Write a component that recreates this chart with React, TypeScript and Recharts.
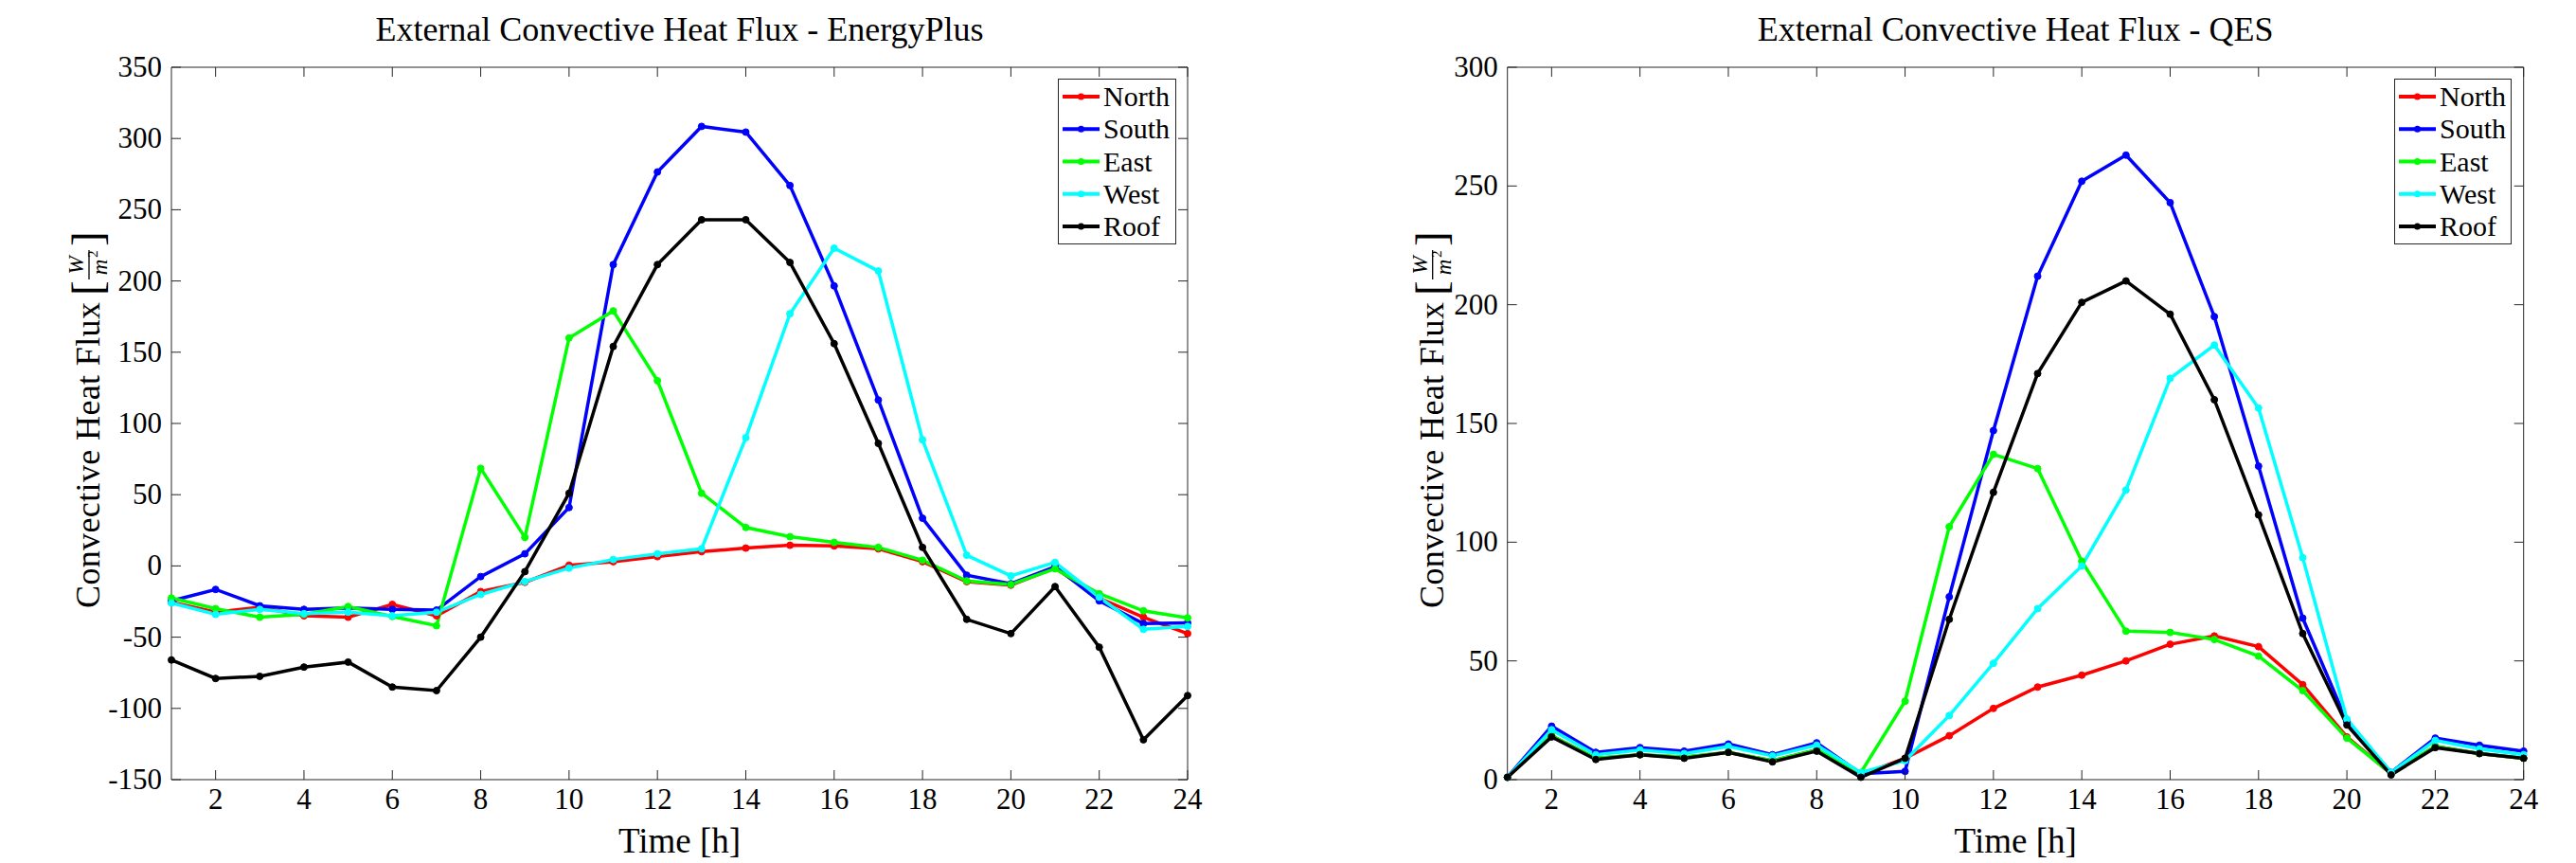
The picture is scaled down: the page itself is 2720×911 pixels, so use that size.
import React from "react";
import { Legend, Line, LineChart, ReferenceLine, XAxis, YAxis } from "recharts";

const HOURS = [1, 2, 3, 4, 5, 6, 7, 8, 9, 10, 11, 12, 13, 14, 15, 16, 17, 18, 19, 20, 21, 22, 23, 24];
const X_TICKS = [2, 4, 6, 8, 10, 12, 14, 16, 18, 20, 22, 24];
const SERIES = ["North", "South", "East", "West", "Roof"];
const COLORS = ["#ff0000", "#0000ff", "#00ff00", "#00ffff", "#000000"];

// EnergyPlus [W/m2]
const epNorth = [-25.5, -32.5, -29, -35, -36, -27, -35, -18, -11.5, 0.5, 3, 6.5, 10, 12.5, 14.5, 14, 12, 3, -11, -13.5, -1.5, -22.5, -36, -47.5];
const epSouth = [-24.5, -16.5, -28, -30.5, -29.5, -30.5, -31, -7.5, 8.5, 41, 211.5, 276.5, 308.5, 304.5, 267, 196.5, 116.5, 33.5, -6.5, -12.5, -0.5, -24.5, -40.5, -40];
const epEast = [-22.5, -30, -36, -34, -28.5, -35.5, -42, 68.5, 20, 160, 179, 130, 51, 27, 20.5, 16.5, 13, 4, -10.5, -13, -2, -19.5, -31.5, -36.5];
const epWest = [-26, -34, -30.5, -33.5, -32.5, -35, -32.5, -20, -11, -1.5, 4.5, 8.5, 12, 90, 177, 223, 207, 88.5, 7.5, -7, 2.5, -22, -44.5, -42.5];
const epRoof = [-66, -79, -77.5, -71, -67.5, -85, -87.5, -50, -4, 51, 154, 211.5, 243, 243, 213, 156, 86, 13, -37.5, -47.5, -14.5, -57, -122, -91];
const EP_TICKS = [-150, -100, -50, 0, 50, 100, 150, 200, 250, 300, 350];

// QES [W/m2]
const qesNorth = [1, 18.5, 9, 10.5, 9.5, 11.5, 8, 12.5, 2, 9, 18.5, 30, 39, 44, 50, 57, 60.5, 56, 40, 18, 2.5, 14, 11, 9];
const qesSouth = [1, 22.5, 11.5, 13.5, 12, 15, 10.5, 15.5, 2.5, 3.5, 77, 147, 212, 252, 263, 243, 195, 132, 68, 24.5, 3, 17.5, 14.5, 12];
const qesEast = [1, 18.5, 9, 10.5, 9.5, 11.5, 8, 12.5, 3, 33, 106.5, 137, 131, 92, 62.5, 62, 59, 52, 37.5, 17.5, 2.5, 14, 11, 9];
const qesWest = [1, 21, 10.5, 12.5, 11, 14, 10, 14.5, 3, 8, 27, 49, 72, 90, 122, 169, 183, 156.5, 93.5, 25.5, 3, 16.5, 13, 10.5];
const qesRoof = [1, 18, 8.5, 10.5, 9, 11.5, 7.5, 12, 1, 9, 67.5, 121, 171, 201, 210, 196, 160, 111.5, 61.5, 23, 2, 13.5, 11, 9];
const QES_TICKS = [0, 50, 100, 150, 200, 250, 300];

const FONT = '"Liberation Serif", "Times New Roman", serif';
const AXIS = "#262626";
const W = 1360;
const H = 911;
const PLOT_TOP = 71;
const PLOT_H = 752;
const PLOT_W = 1073;
const TICK_LEN = 10;

function toRows(cols: number[][]) {
  return HOURS.map((hour, i) => {
    const row: Record<string, number> = { hour };
    SERIES.forEach((name, k) => (row[name] = cols[k][i]));
    return row;
  });
}

const epRows = toRows([epNorth, epSouth, epEast, epWest, epRoof]);
const qesRows = toRows([qesNorth, qesSouth, qesEast, qesWest, qesRoof]);

function XTick(props: any) {
  const { x, y, payload } = props;
  return (
    <g>
      <line x1={x} x2={x} y1={y} y2={y - TICK_LEN} stroke={AXIS} />
      <line x1={x} x2={x} y1={y - PLOT_H} y2={y - PLOT_H + TICK_LEN} stroke={AXIS} />
      <text x={x} y={y + 31} textAnchor="middle" fontSize={31} fontFamily={FONT} fill="#000">
        {payload.value}
      </text>
    </g>
  );
}

function YTick(props: any) {
  const { x, y, payload } = props;
  return (
    <g>
      <line x1={x} x2={x + TICK_LEN} y1={y} y2={y} stroke={AXIS} />
      <line x1={x + PLOT_W} x2={x + PLOT_W - TICK_LEN} y1={y} y2={y} stroke={AXIS} />
      <text x={x - 10} y={y + 10} textAnchor="end" fontSize={31} fontFamily={FONT} fill="#000">
        {payload.value}
      </text>
    </g>
  );
}

function YLabel({ cx, cy }: { cx: number; cy: number }) {
  return (
    <g transform={`translate(${cx},${cy}) rotate(-90)`} fontFamily={FONT} fill="#000">
      <text x={-195} y={12} fontSize={36} textLength={323} lengthAdjust="spacing">
        Convective Heat Flux
      </text>
      <text x={135} y={15} fontSize={47}>[</text>
      <text x={167} y={-5} fontSize={23} fontStyle="italic" textAnchor="middle">W</text>
      <line x1={152} x2={183} y1={1} y2={1} stroke="#000" strokeWidth={1.3} />
      <text x={165} y={20} fontSize={23} fontStyle="italic" textAnchor="middle">m</text>
      <text x={175} y={10} fontSize={15}>2</text>
      <text x={187} y={15} fontSize={47}>]</text>
    </g>
  );
}

function legendBox(width: number) {
  return (props: any) => {
    const items = SERIES.map((name) => props.payload.find((p: any) => p.value === name)).filter(Boolean);
    return (
      <svg width={width} height={175} style={{ display: "block" }}>
        <rect x={0.5} y={0.5} width={width - 1} height={174} fill="#fff" stroke={AXIS} />
        {items.map((e: any, i: number) => {
          const cy = 19 + i * 34.25;
          return (
            <g key={e.value}>
              <line x1={5} x2={44} y1={cy} y2={cy} stroke={e.color} strokeWidth={4} />
              <circle cx={24.5} cy={cy} r={3.5} fill={e.color} />
              <text x={48} y={cy + 10} fontSize={30} fontFamily={FONT} fill="#000">
                {e.value}
              </text>
            </g>
          );
        })}
      </svg>
    );
  };
}

type PanelProps = {
  rows: Record<string, number>[];
  yTicks: number[];
  plotLeft: number;
  labelX: number;
  legendLeft: number;
  legendWidth: number;
};

function Panel({ rows, yTicks, plotLeft, labelX, legendLeft, legendWidth }: PanelProps) {
  const yMin = yTicks[0];
  const yMax = yTicks[yTicks.length - 1];
  return (
    <LineChart
      width={W}
      height={H}
      data={rows}
      margin={{ top: PLOT_TOP, right: W - plotLeft - PLOT_W, bottom: H - PLOT_TOP - PLOT_H - 40, left: plotLeft - 60 }}
    >
      <XAxis
        dataKey="hour"
        type="number"
        domain={[1, 24]}
        ticks={X_TICKS}
        height={40}
        tickSize={0}
        tickMargin={0}
        tickLine={false}
        axisLine={{ stroke: AXIS }}
        tick={XTick}
        interval={0}
        label={{
          content: () => (
            <text x={plotLeft + PLOT_W / 2} y={900} textAnchor="middle" fontSize={37} fontFamily={FONT} fill="#000">
              Time [h]
            </text>
          ),
        }}
      />
      <YAxis
        type="number"
        domain={[yMin, yMax]}
        ticks={yTicks}
        width={60}
        tickSize={0}
        tickMargin={0}
        tickLine={false}
        axisLine={{ stroke: AXIS }}
        tick={YTick}
        interval={0}
        label={{ content: () => <YLabel cx={labelX} cy={PLOT_TOP + PLOT_H / 2} /> }}
      />
      <ReferenceLine y={yMax} stroke={AXIS} />
      <ReferenceLine x={24} stroke={AXIS} />
      <Legend
        layout="vertical"
        align="center"
        verticalAlign="middle"
        content={legendBox(legendWidth)}
        wrapperStyle={{ left: legendLeft, top: 83, width: legendWidth, height: 175 }}
      />
      {SERIES.map((name, k) => (
        <Line
          key={name}
          dataKey={name}
          name={name}
          stroke={COLORS[k]}
          strokeWidth={3.5}
          dot={{ r: 3.5, fill: COLORS[k], stroke: COLORS[k], strokeWidth: 1 }}
          activeDot={false}
          isAnimationActive={false}
        />
      ))}
    </LineChart>
  );
}

export default function App() {
  return (
    <div style={{ position: "absolute", left: 0, top: 0, width: 2720, height: 911, background: "#fff", overflow: "hidden" }}>
      <div style={{ position: "absolute", left: 0, top: 0 }}>
        <Panel rows={epRows} yTicks={EP_TICKS} plotLeft={181} labelX={93} legendLeft={1117} legendWidth={125} />
      </div>
      <div style={{ position: "absolute", left: 1360, top: 0 }}>
        <Panel rows={qesRows} yTicks={QES_TICKS} plotLeft={231.7} labelX={151.7} legendLeft={1168} legendWidth={124} />
      </div>
      <svg width={2720} height={60} style={{ position: "absolute", left: 0, top: 0 }}>
        <text x={181 + PLOT_W / 2} y={43} textAnchor="middle" fontSize={36} fontFamily={FONT} fill="#000">
          External Convective Heat Flux - EnergyPlus
        </text>
        <text x={1591.7 + PLOT_W / 2} y={43} textAnchor="middle" fontSize={36} fontFamily={FONT} fill="#000">
          External Convective Heat Flux - QES
        </text>
      </svg>
    </div>
  );
}
